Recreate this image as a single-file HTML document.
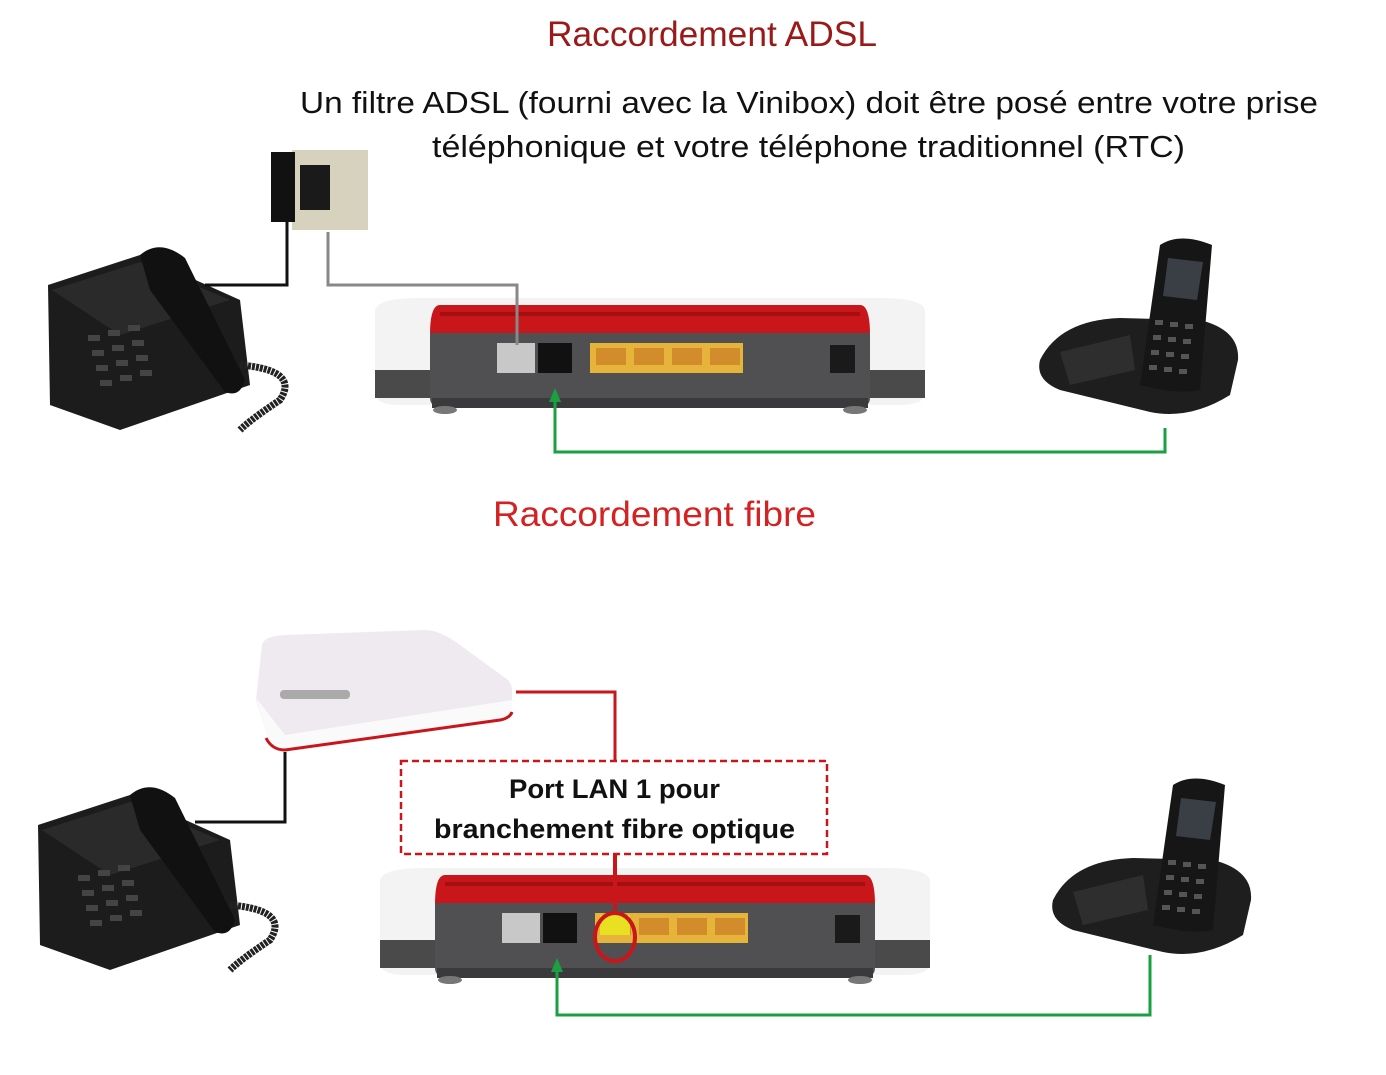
<!DOCTYPE html>
<html><head><meta charset="utf-8"><style>
html,body{margin:0;padding:0;background:#fff;width:1386px;height:1075px;overflow:hidden}
svg{display:block}
</style></head><body>
<svg width="1386" height="1075" viewBox="0 0 1386 1075" xmlns="http://www.w3.org/2000/svg" font-family="Liberation Sans, DejaVu Sans, sans-serif">
<defs>
<g id="router">
  <path d="M375 310 Q378 298 420 298 L880 298 Q922 298 925 310 L925 395 Q922 405 900 405 L400 405 Q378 405 375 395 Z" fill="#f3f3f3"/>
  <rect x="375" y="370" width="60" height="28" fill="#4a4a4a"/>
  <rect x="866" y="370" width="59" height="28" fill="#4a4a4a"/>
  <path d="M440 305 L860 305 Q870 305 870 335 L430 335 Q430 305 440 305 Z" fill="#c8161b"/>
  <rect x="440" y="312" width="420" height="4" fill="#a40f12"/>
  <path d="M430 333 L870 333 L870 398 Q870 408 855 408 L445 408 Q430 408 430 398 Z" fill="#505052"/>
  <rect x="432" y="398" width="436" height="10" fill="#3a3a3c"/>
  <rect x="497" y="343" width="38" height="30" fill="#c8c8c8"/>
  <rect x="538" y="343" width="34" height="30" fill="#111"/>
  <rect x="590" y="343" width="153" height="30" fill="#e6b43a"/>
  <rect x="596" y="348" width="30" height="17" fill="#d28c2c"/><rect x="634" y="348" width="30" height="17" fill="#d28c2c"/><rect x="672" y="348" width="30" height="17" fill="#d28c2c"/><rect x="710" y="348" width="30" height="17" fill="#d28c2c"/>
  <rect x="830" y="345" width="25" height="28" fill="#1a1a1a"/>
  <ellipse cx="445" cy="410" rx="12" ry="4" fill="#777"/><ellipse cx="855" cy="410" rx="12" ry="4" fill="#777"/>
</g>
<g id="desk">
  <path d="M48 285 L140 255 L240 300 L250 385 L120 430 L50 405 Z" fill="#1c1c1c"/>
  <path d="M52 290 L140 262 L230 300 L120 335 Z" fill="#2a2a2a"/>
  <path d="M140 255 Q160 238 185 258 L245 380 Q240 398 225 392 L150 290 Z" fill="#111"/>
  <g fill="#444">
    <rect x="88" y="335" width="12" height="6"/><rect x="108" y="330" width="12" height="6"/><rect x="128" y="325" width="12" height="6"/>
    <rect x="92" y="350" width="12" height="6"/><rect x="112" y="345" width="12" height="6"/><rect x="132" y="340" width="12" height="6"/>
    <rect x="96" y="365" width="12" height="6"/><rect x="116" y="360" width="12" height="6"/><rect x="136" y="355" width="12" height="6"/>
    <rect x="100" y="380" width="12" height="6"/><rect x="120" y="375" width="12" height="6"/><rect x="140" y="370" width="12" height="6"/>
  </g>
  <path d="M240 365 Q300 370 280 400 Q250 420 240 430" fill="none" stroke="#222" stroke-width="7" stroke-dasharray="3 1"/>
</g>
<g id="cordless">
  <path d="M1040 360 Q1060 320 1120 318 L1200 320 Q1240 330 1238 360 L1230 395 Q1190 420 1150 412 L1060 390 Q1035 380 1040 360 Z" fill="#1e1e1e"/>
  <path d="M1060 352 L1130 335 L1135 370 L1070 385 Z" fill="#2e2e2e"/>
  <path d="M1160 245 Q1180 232 1212 245 L1200 390 Q1180 395 1140 385 Z" fill="#161616"/>
  <path d="M1168 258 L1203 262 L1197 300 L1163 296 Z" fill="#3a3f46"/>
  <g fill="#555"><rect x="1155" y="320" width="8" height="5"/><rect x="1170" y="322" width="8" height="5"/><rect x="1185" y="324" width="8" height="5"/>
  <rect x="1153" y="335" width="8" height="5"/><rect x="1168" y="337" width="8" height="5"/><rect x="1183" y="339" width="8" height="5"/>
  <rect x="1151" y="350" width="8" height="5"/><rect x="1166" y="352" width="8" height="5"/><rect x="1181" y="354" width="8" height="5"/>
  <rect x="1149" y="365" width="8" height="5"/><rect x="1164" y="367" width="8" height="5"/><rect x="1179" y="369" width="8" height="5"/></g>
</g>
</defs>

<text x="547" y="46" textLength="330" lengthAdjust="spacingAndGlyphs" font-size="35" fill="#9a1a1a">Raccordement ADSL</text>
<text x="300" y="113" textLength="1018" lengthAdjust="spacingAndGlyphs" font-size="31" fill="#111">Un filtre ADSL (fourni avec la Vinibox) doit être posé entre votre prise</text>
<text x="432" y="157" textLength="753" lengthAdjust="spacingAndGlyphs" font-size="31" fill="#111">téléphonique et votre téléphone traditionnel (RTC)</text>
<text x="493" y="526" textLength="323" lengthAdjust="spacingAndGlyphs" font-size="35" fill="#d42222">Raccordement fibre</text>

<!-- TOP -->
<use href="#router"/>
<use href="#desk"/>
<use href="#cordless"/>
<rect x="292" y="150" width="76" height="80" fill="#d7d2bd"/>
<rect x="300" y="165" width="30" height="45" fill="#1a1a1a"/>
<rect x="271" y="152" width="24" height="70" fill="#111"/>
<polyline points="287,222 287,285 205,285" fill="none" stroke="#111" stroke-width="3"/>
<polyline points="328,232 328,285 517,285 517,345" fill="none" stroke="#888" stroke-width="3"/>
<polyline points="555,400 555,452 1165,452 1165,428" fill="none" stroke="#1aa040" stroke-width="3"/>
<polygon points="555,388 549,402 561,402" fill="#1aa040"/>

<!-- BOTTOM -->
<use href="#router" transform="translate(5,570)"/>
<use href="#desk" transform="translate(-10,540)"/>
<use href="#cordless" transform="translate(13,540)"/>
<path d="M262 645 Q264 636 285 635 L425 630 Q440 630 460 645 L508 680 Q512 684 512 690 L512 712 Q510 718 500 720 L285 750 Q272 750 268 738 L256 700 Z" fill="#eeeaf0"/>
<path d="M256 698 L268 738 Q272 750 285 750 L500 720 Q510 718 512 712 L512 700 L285 735 Z" fill="#fafafa"/>
<path d="M266 738 Q272 750 285 750 L500 720 Q510 718 512 712" fill="none" stroke="#c8161b" stroke-width="3"/>
<rect x="280" y="690" width="70" height="9" rx="4" fill="#aaa"/>
<polyline points="516,692 615,692 615,760" fill="none" stroke="#c8161b" stroke-width="3"/>
<polyline points="615,855 615,910" fill="none" stroke="#c8161b" stroke-width="4"/>
<rect x="600" y="915" width="30" height="20" fill="#e8e020"/>
<ellipse cx="615" cy="937" rx="20" ry="24" fill="none" stroke="#c8161b" stroke-width="4"/>
<rect x="401" y="761" width="426" height="93" fill="#fff" stroke="#c8161b" stroke-width="2.5" stroke-dasharray="7 4"/>
<text x="509" y="798" textLength="211" lengthAdjust="spacingAndGlyphs" font-size="27" font-weight="bold" fill="#111">Port LAN 1 pour</text>
<text x="434" y="838" textLength="361" lengthAdjust="spacingAndGlyphs" font-size="27" font-weight="bold" fill="#111">branchement fibre optique</text>
<polyline points="285,752 285,822 195,822" fill="none" stroke="#111" stroke-width="3"/>
<polyline points="557,970 557,1015 1150,1015 1150,955" fill="none" stroke="#1aa040" stroke-width="3"/>
<polygon points="557,958 551,972 563,972" fill="#1aa040"/>
</svg>
</body></html>
